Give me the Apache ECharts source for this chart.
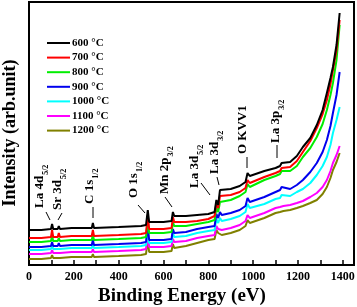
<!DOCTYPE html>
<html><head><meta charset="utf-8">
<script src="https://cdn.jsdelivr.net/npm/echarts@6/dist/echarts.min.js"></script>
<style>html,body{margin:0;padding:0;background:#fff}#c{width:357px;height:307px}</style>
</head><body><div id="c"></div>
<script>
// Binding energy (eV)
var energy = [0,45,50,55,98,103,108,128,133,138,190,195,200,280,285,290,400,500,522,530,536,560,600,636,642,648,700,750,800,828,836,844,852,860,900,940,966,975,985,1050,1100,1120,1127,1135,1165,1195,1222,1255,1284,1310,1329,1345,1356,1372,1386];
// Intensity (arb. unit), offset curves as plotted
var s600 = [35,35,37,35,36,41,36,36,39,36,37,39,37,37,42,37,38,39,40,55,43,43,43,44,53,49,49,50,51,53,65,60,75,73,76,79,83,92,89,94,97,99,102,100,103,109,118,127,140,155,172,187,198,220,252];
var s700 = [27,27,29,27,28,35,28,28,32,28,29,31,29,29,35,29,30,31,32,50,36,36,36,37,48,43,43,44,46,49,62,57,69,67,70,73,77,85,82,88,92,94,97,95,98,104,113,124,137,151,165,181,195,215,245];
var s800 = [23,23,25,23,24,29,24,24,27,24,25,27,25,25,30,25,26,27,28,45,32,32,32,33,43,39,39,41,43,45,57,53,63,62,65,69,73,81,78,85,89,91,94,92,94,99,108,117,128,141,155,170,182,205,240];
var s900 = [18,18,20,18,19,23,19,19,22,19,20,22,20,20,25,20,21,22,23,39,25,25,25,26,36,32,33,36,38,39,51,47,53,50,52,55,59,67,63,68,73,75,78,76,76,80,85,93,102,113,125,139,152,170,193];
var s1000 = [15,15,17,15,16,19,16,16,18,16,17,19,17,17,21,17,18,19,20,35,22,22,22,23,32,28,29,32,34,35,46,42,47,44,46,49,53,61,57,61,66,67,70,68,69,73,76,82,90,99,108,120,132,145,158];
var s1100 = [11,11,13,11,12,15,12,12,14,12,13,15,13,13,16,13,14,15,16,30,18,18,18,19,26,23,24,27,29,30,39,36,38,35,37,40,44,50,47,52,57,58,60,59,60,62,64,68,72,78,85,94,102,110,119];
var s1200 = [6,6,8,6,7,10,7,7,9,7,8,10,8,8,11,8,9,10,11,25,13,13,13,14,21,17,19,22,25,26,35,32,33,30,32,35,39,45,42,47,52,53,55,54,55,57,59,62,65,71,78,87,95,103,112];
var seriesNames = ['600 \u00B0C','700 \u00B0C','800 \u00B0C','900 \u00B0C','1000 \u00B0C','1100 \u00B0C','1200 \u00B0C'];
var seriesColors = ['#000000','#ff0000','#00ee00','#0000ee','#00ffff','#ff00ff','#808000'];
var xTicks = [0,200,400,600,800,1000,1200,1400];
// Peak annotations: [label main, subscript]
var peakLabels = [['La 4d','5/2'],['Sr 3d','5/2'],['C 1s','1/2'],['O 1s','1/2'],['Mn 2p','3/2'],['La 3d','5/2'],['La 3d','3/2'],['O KVV1',''],['La 3p','3/2']];

var chart = echarts.init(document.getElementById('c'));
var allData = [s600,s700,s800,s900,s1000,s1100,s1200];
var series = allData.map(function(arr,i){
  return {name:seriesNames[i],type:'line',showSymbol:false,symbol:'none',
    data:arr.map(function(v,k){return [energy[k],v];}),
    lineStyle:{color:seriesColors[i],width:2},itemStyle:{color:seriesColors[i]},z:10-i,animation:false};
});
var font = 'Liberation Serif';
// annotation layout (pixel anchors for text bottom and arrow)
var ann = [
  {x:40,y:208,ax:[46,212,50,220]},
  {x:58,y:210,ax:[62,213,58,220]},
  {x:90,y:204,ax:[93,207,93,218]},
  {x:134,y:198,ax:[138,205,145,213]},
  {x:165,y:194,ax:[165,197,172,207]},
  {x:195,y:188,ax:[201,183,210,195]},
  {x:215,y:174,ax:[217,177,219,185]},
  {x:243,y:154,ax:[247,157,247,168]},
  {x:276,y:143,ax:[277,145,277,158]}
];
var graphics = [];
peakLabels.forEach(function(p,i){
  var a = ann[i];
  graphics.push({type:'text',x:a.x,y:a.y,rotation:Math.PI/2,z:100,
    style:{text:'{m|'+p[0]+'}'+(p[1]?'{s|'+p[1]+'}':''),
      rich:{m:{fontFamily:font,fontWeight:'bold',fontSize:13,fill:'#000',verticalAlign:'bottom'},
            s:{fontFamily:font,fontWeight:'bold',fontSize:8,fill:'#000',verticalAlign:'bottom',padding:[0,0,-3,1]}},
      align:'left',verticalAlign:'middle'}});
  graphics.push({type:'line',z:100,shape:{x1:a.ax[0],y1:a.ax[1],x2:a.ax[2],y2:a.ax[3]},style:{stroke:'#000',lineWidth:1}});
});
graphics.push({type:'text',x:182,y:296,z:100,style:{text:'Binding Energy (eV)',fontFamily:font,fontWeight:'bold',fontSize:19,fill:'#000',align:'center',verticalAlign:'middle'}});
graphics.push({type:'text',x:10.5,y:133,rotation:Math.PI/2,z:100,style:{text:'Intensity (arb.unit)',fontFamily:font,fontWeight:'bold',fontSize:18,fill:'#000',align:'center',verticalAlign:'middle'}});

chart.setOption({
  animation:false,
  backgroundColor:'#fff',
  grid:{left:29,right:3,top:2,bottom:42,show:true,borderColor:'#000',borderWidth:2,containLabel:false,outerBoundsMode:'none'},
  legend:{orient:'vertical',left:47,top:37,padding:0,itemWidth:23,itemHeight:2,itemGap:2.6,icon:'rect',
    data:seriesNames,textStyle:{fontFamily:font,fontWeight:'bold',fontSize:11,color:'#000',lineHeight:12,padding:[0,0,0,-3]},
    selectedMode:false},
  xAxis:{type:'value',min:0,max:1450,interval:100,
    axisLine:{show:true,lineStyle:{color:'#000',width:2}},
    axisTick:{show:true,inside:true,length:5,lineStyle:{color:'#000',width:1.5}},
    splitLine:{show:false},
    axisLabel:{margin:6,fontFamily:font,fontWeight:'bold',fontSize:12,color:'#000',showMaxLabel:false,
      formatter:function(v){return xTicks.indexOf(v)>=0?String(v):'';}}},
  yAxis:{type:'value',min:0,max:263,
    axisLine:{show:true,lineStyle:{color:'#000',width:2}},axisTick:{show:false},axisLabel:{show:false},splitLine:{show:false}},
  series:series,
  graphic:graphics
});
</script></body></html>
